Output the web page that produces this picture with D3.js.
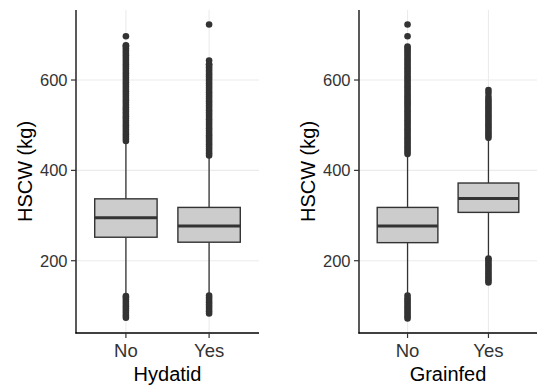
<!DOCTYPE html>
<html>
<head>
<meta charset="utf-8">
<script src="https://cdn.jsdelivr.net/npm/d3@7"></script>
<style>
  html, body { margin: 0; padding: 0; background: #fff; }
  svg { display: block; }
  text { font-family: "Liberation Sans", Arial, sans-serif; }
</style>
</head>
<body>
<svg id="chart" width="537" height="386"></svg>
<script>
// ---------- data ----------
const categories = ["No", "Yes"];
const yTicks = [200, 400, 600];
const yTitle = "HSCW (kg)";

const panelTitles = ["Hydatid", "Grainfed"];

// box stats [lowerWhisker, q1, median, q3, upperWhisker]
const hydatidStats = [
  [126, 252, 295, 337, 462],
  [127, 241, 277, 318, 430]
];
const grainfedStats = [
  [126, 240, 277, 318, 432],
  [208, 307, 338, 372, 469]
];

// outliers per category
const hydatidNoOut = [74, 79, 84, 89, 94, 99, 104, 109, 114, 119, 122,
  465, 470, 475, 480, 485, 490, 495, 500, 505, 510, 515, 520, 525, 530, 535, 540,
  545, 550, 555, 560, 565, 570, 575, 580, 585, 590, 595, 600, 605, 610, 615, 620,
  625, 630, 635, 640, 645, 650, 655, 660, 665, 670, 675, 677, 697];
const hydatidYesOut = [83, 88, 93, 98, 103, 108, 113, 118, 123,
  433, 438, 443, 448, 453, 458, 463, 468, 473, 478, 483, 488, 493, 498, 503, 508,
  513, 518, 523, 528, 533, 538, 543, 548, 553, 558, 563, 568, 573, 578, 583, 588,
  593, 598, 603, 608, 613, 618, 623, 628, 633, 635, 643, 723];
const grainfedNoOut = [72, 77, 82, 87, 92, 97, 102, 107, 112, 117, 123,
  436, 441, 446, 451, 456, 461, 466, 471, 476, 481, 486, 491, 496, 501, 506, 511,
  516, 521, 526, 531, 536, 541, 546, 551, 556, 561, 566, 571, 576, 581, 586, 591,
  596, 601, 606, 611, 616, 621, 626, 631, 636, 641, 646, 651, 656, 661, 666, 671,
  674, 697, 723];
const grainfedYesOut = [152, 157, 162, 167, 172, 177, 182, 187, 192, 197, 202, 205,
  472, 477, 482, 487, 492, 497, 502, 507, 512, 517, 522, 527, 532, 537, 542, 547,
  552, 557, 563, 571, 578];

const panels = [
  { title: panelTitles[0], stats: hydatidStats, outliers: [hydatidNoOut, hydatidYesOut] },
  { title: panelTitles[1], stats: grainfedStats, outliers: [grainfedNoOut, grainfedYesOut] }
];

// ---------- layout ----------
const svg = d3.select("#chart");
const panelTop = 10, panelBottom = 333;
const panelX = [[76, 259], [359, 537]];

const y = d3.scaleLinear().domain([40, 755]).range([panelBottom, panelTop]);

const darkGrey = "#333333";
const gridCol = "#EBEBEB";

panels.forEach((p, i) => {
  const [x0, x1] = panelX[i];
  const unit = (x1 - x0) / 2.2;
  const x = d3.scalePoint().domain(categories).range([x0 + 0.6 * unit, x1 - 0.6 * unit]);
  const bw = 0.75 * unit;
  const g = svg.append("g");

  // grid
  g.selectAll(".hg").data(yTicks).enter().append("line")
    .attr("x1", x0).attr("x2", x1)
    .attr("y1", d => y(d)).attr("y2", d => y(d))
    .attr("stroke", gridCol).attr("stroke-width", 1.1);
  g.selectAll(".vg").data(categories).enter().append("line")
    .attr("x1", d => x(d)).attr("x2", d => x(d))
    .attr("y1", panelTop).attr("y2", panelBottom)
    .attr("stroke", gridCol).attr("stroke-width", 1.1);

  // boxes
  categories.forEach((c, j) => {
    const s = p.stats[j];
    const cx = x(c);
    // whiskers
    g.append("line").attr("x1", cx).attr("x2", cx)
      .attr("y1", y(s[3])).attr("y2", y(s[4]))
      .attr("stroke", darkGrey).attr("stroke-width", 1.3);
    g.append("line").attr("x1", cx).attr("x2", cx)
      .attr("y1", y(s[1])).attr("y2", y(s[0]))
      .attr("stroke", darkGrey).attr("stroke-width", 1.3);
    // outliers
    g.selectAll(null).data(p.outliers[j]).enter().append("circle")
      .attr("cx", cx).attr("cy", d => y(d)).attr("r", 3.3)
      .attr("fill", darkGrey);
    // box
    g.append("rect")
      .attr("x", cx - bw / 2).attr("width", bw)
      .attr("y", y(s[3])).attr("height", y(s[1]) - y(s[3]))
      .attr("fill", "#CCCCCC").attr("stroke", darkGrey).attr("stroke-width", 1.4);
    // median
    g.append("line")
      .attr("x1", cx - bw / 2).attr("x2", cx + bw / 2)
      .attr("y1", y(s[2])).attr("y2", y(s[2]))
      .attr("stroke", darkGrey).attr("stroke-width", 3);
  });

  // axes lines
  g.append("line").attr("x1", x0).attr("x2", x0).attr("y1", panelTop).attr("y2", panelBottom + 0.6)
    .attr("stroke", "#000").attr("stroke-width", 1.3);
  g.append("line").attr("x1", x0 - 0.6).attr("x2", x1).attr("y1", panelBottom).attr("y2", panelBottom)
    .attr("stroke", "#000").attr("stroke-width", 1.3);

  // y ticks
  yTicks.forEach(t => {
    g.append("line").attr("x1", x0 - 5).attr("x2", x0)
      .attr("y1", y(t)).attr("y2", y(t))
      .attr("stroke", darkGrey).attr("stroke-width", 1.2);
    g.append("text").attr("x", x0 - 8.5).attr("y", y(t))
      .attr("dy", "0.36em").attr("text-anchor", "end")
      .attr("font-size", 16.5).attr("fill", darkGrey).text(t);
  });
  // x ticks
  categories.forEach(c => {
    g.append("line").attr("x1", x(c)).attr("x2", x(c))
      .attr("y1", panelBottom).attr("y2", panelBottom + 5)
      .attr("stroke", darkGrey).attr("stroke-width", 1.2);
    g.append("text").attr("x", x(c)).attr("y", 357)
      .attr("text-anchor", "middle")
      .attr("font-size", 18.5).attr("fill", darkGrey).text(c);
  });

  // titles
  g.append("text").attr("x", (x0 + x1) / 2).attr("y", 381)
    .attr("text-anchor", "middle").attr("font-size", 20).attr("fill", "#000")
    .text(p.title);
  g.append("text")
    .attr("transform", `translate(${x0 - 44.5},${(panelTop + panelBottom) / 2}) rotate(-90)`)
    .attr("text-anchor", "middle").attr("font-size", 20).attr("fill", "#000")
    .text(yTitle);
});
</script>
</body>
</html>
